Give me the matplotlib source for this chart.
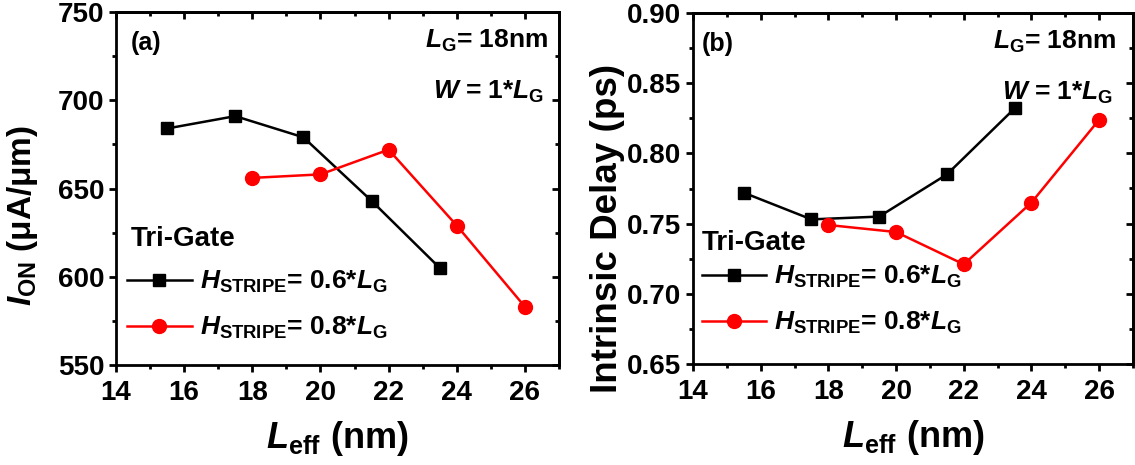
import numpy as np
import matplotlib
matplotlib.use('Agg')
import matplotlib.pyplot as plt
from matplotlib.ticker import MultipleLocator, FormatStrFormatter

# Data
leff_06 = [15.5, 17.5, 19.5, 21.5, 23.5]
leff_08 = [18, 20, 22, 24, 26]
ion_06 = [684, 691, 679, 643, 605]
ion_08 = [656, 658, 672, 629, 583]
delay_06 = [0.772, 0.753, 0.755, 0.785, 0.832]
delay_08 = [0.749, 0.744, 0.721, 0.765, 0.824]

labels = [r'$\it{H}_{\rm STRIPE}$= 0.6*$\it{L}_{\rm G}$',
          r'$\it{H}_{\rm STRIPE}$= 0.8*$\it{L}_{\rm G}$']

plt.rcParams['font.family'] = ['Liberation Sans', 'DejaVu Sans']
plt.rcParams['font.weight'] = 'bold'
plt.rcParams['mathtext.fontset'] = 'custom'
plt.rcParams['mathtext.rm'] = 'Liberation Sans:bold'
plt.rcParams['mathtext.it'] = 'Liberation Sans:italic:bold'
plt.rcParams['mathtext.bf'] = 'Liberation Sans:bold'
plt.rcParams['axes.linewidth'] = 2

W, H = 1135, 465
fig = plt.figure(figsize=(W / 100, H / 100), dpi=100)
ax1 = fig.add_axes([116 / W, 1 - 365 / H, 443 / W, 353 / H])
ax2 = fig.add_axes([693 / W, 1 - 364 / H, 440 / W, 351 / H])


def style(ax, ylo, yhi, ymaj, ymin):
    ax.set_xlim(14, 27)
    ax.set_ylim(ylo, yhi)
    ax.xaxis.set_major_locator(MultipleLocator(2))
    ax.xaxis.set_minor_locator(MultipleLocator(1))
    ax.yaxis.set_major_locator(MultipleLocator(ymaj))
    ax.yaxis.set_minor_locator(MultipleLocator(ymin))
    ax.tick_params(which='major', direction='out', length=5, width=2, labelsize=20)
    ax.tick_params(which='minor', direction='out', length=3, width=2)
    ax.tick_params(axis='x', pad=6)
    # mirrored ticks on top / right, pointing in
    top = ax.secondary_xaxis('top')
    top.xaxis.set_major_locator(MultipleLocator(2))
    top.xaxis.set_minor_locator(MultipleLocator(1))
    top.tick_params(which='major', direction='in', length=5, width=2, labeltop=False)
    top.tick_params(which='minor', direction='in', length=3, width=2)
    right = ax.secondary_yaxis('right')
    right.yaxis.set_major_locator(MultipleLocator(ymaj))
    right.yaxis.set_minor_locator(MultipleLocator(ymin))
    right.tick_params(which='major', direction='in', length=5, width=2, labelright=False)
    right.tick_params(which='minor', direction='in', length=3, width=2)
    ax.set_xlabel(r'$\it{L}_{\rm eff}$ (nm)', fontsize=26, fontweight='bold', labelpad=9)


def draw(ax, y06, y08, tag, tag_x, leg_x, leg_y, tri_x, tri_y, note_x):
    h1, = ax.plot(leff_06, y06, color='black', marker='s', markersize=9, linewidth=1.8)
    h2, = ax.plot(leff_08, y08, color='red', marker='o', markersize=10, linewidth=1.8)
    ax.legend([h1, h2], labels, loc='upper left', bbox_to_anchor=(leg_x, leg_y),
              borderaxespad=0, borderpad=0, frameon=False, fontsize=19,
              handlelength=2.45, handletextpad=0.3, labelspacing=0.75)
    ax.text(tri_x, tri_y, 'Tri-Gate', transform=ax.transAxes, fontsize=20,
            fontweight='bold', va='center')
    ax.text(tag_x, 0.912, tag, transform=ax.transAxes, fontsize=18,
            fontweight='bold', va='center')
    ax.text(note_x, 0.955, r'$\it{L}_{\rm G}$= 18nm', transform=ax.transAxes,
            fontsize=19, ha='right', va='top')
    ax.text(note_x - 0.008, 0.81, r'$\it{W}$ = 1*$\it{L}_{\rm G}$', transform=ax.transAxes,
            fontsize=19, ha='right', va='top')


style(ax1, 550, 750, 50, 25)
style(ax2, 0.65, 0.90, 0.05, 0.025)
ax2.yaxis.set_major_formatter(FormatStrFormatter('%.2f'))

draw(ax1, ion_06, ion_08, '(a)', 0.034, 0.025, 0.272, 0.034, 0.358, 0.975)
draw(ax2, delay_06, delay_08, '(b)', 0.02, 0.02, 0.285, 0.02, 0.345, 0.962)

ax1.set_ylabel(r'$\it{I}_{\rm ON}$ (μA/μm)', fontsize=24, fontweight='bold')
ax2.set_ylabel('Intrinsic Delay (ps)', fontsize=26.5, fontweight='bold')
ax1.yaxis.label.set_verticalalignment('center')
ax2.yaxis.label.set_verticalalignment('center')
ax1.yaxis.set_label_coords(-0.212, 0.422)
ax2.yaxis.set_label_coords(-0.195, 0.387)

fig.savefig('out.png', dpi=100)
